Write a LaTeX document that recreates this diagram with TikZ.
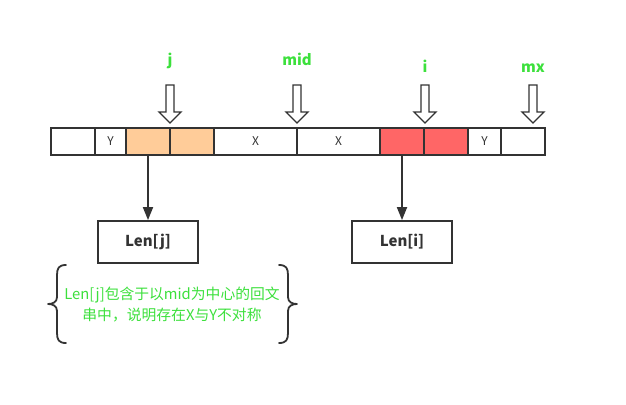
\documentclass[tikz,border=0pt]{standalone}
\usepackage{fontspec}
\setmainfont{Noto Sans CJK SC}
\usetikzlibrary{arrows.meta}
\definecolor{ink}{HTML}{333333}
\definecolor{lgreen}{HTML}{3CE03C}
\definecolor{orangecell}{HTML}{FFCC99}
\definecolor{redcell}{HTML}{FF6666}
\begin{document}
\begin{tikzpicture}[x=1pt,y=-1pt,
  cell/.style={draw=ink, line width=1.8pt, anchor=north west, minimum height=27pt,
    inner sep=0pt, outer sep=0pt, font=\fontsize{12}{14}\selectfont, text=ink},
  lenbox/.style={draw=ink, line width=1.8pt, minimum width=100pt, minimum height=42pt,
    inner sep=0pt, font=\bfseries\fontsize{15}{17}\selectfont, text=ink},
  ptrlabel/.style={anchor=base, text=lgreen, font=\bfseries\fontsize{15}{18}\selectfont, inner sep=0pt},
  note/.style={align=center, text=lgreen, font=\fontsize{14.8}{21}\selectfont, inner sep=0pt},
  conn/.style={draw=ink, line width=1.8pt, -{Triangle[length=13pt,width=10pt]}},
  bracestyle/.style={draw=ink, line width=1.8pt, line cap=round, line join=round},
  pics/blockarrow/.style={code={
    \draw[draw=ink, fill=white, line width=1.3pt, line join=miter]
      (-4,0) -- (4,0) -- (4,27) -- (11,27) -- (0,38) -- (-11,27) -- (-4,27) -- cycle;}}
]
\useasboundingbox (0,0) rectangle (626,404);

% array cells
\foreach \xa/\xb/\fc/\txt/\nm in {51/95/white//c1, 95/126/white/Y/c2, 126/170/orangecell//c3,
  170/214/orangecell//c4, 214/297/white/X/c5, 297/380/white/X/c6, 380/424/redcell//c7,
  424/468/redcell//c8, 468/501/white/Y/c9, 501/545/white//c10}
{
  \pgfmathsetmacro{\w}{\xb-\xa}
  \node[cell, fill=\fc, minimum width=\w pt] (\nm) at (\xa,128) {\txt};
}

% pointer labels
\node[ptrlabel] (lj) at (170,66) {j};
\node[ptrlabel] (lmid) at (297,66) {mid};
\node[ptrlabel] (li) at (425,72) {i};
\node[ptrlabel] (lmx) at (533,72) {mx};

% block arrows
\pic at (170,85) {blockarrow};
\pic at (297,85) {blockarrow};
\pic at (425,85) {blockarrow};
\pic at (533,85) {blockarrow};

% boxes
\node[lenbox] (lenj) at (148,242) {Len[j]};
\node[lenbox] (leni) at (402,242) {Len[i]};

\draw[conn] (c3.south) -- (lenj.north);
\draw[conn] (c7.south) -- (leni.north);

% note
\node[note] (note) at (172,305) {Len[j]包含于以mid为中心的回文\\串中，说明存在X与Y不对称};

% braces
\draw[bracestyle] (66,265) .. controls (59,265) and (57,268) .. (57,275)
  -- (57,297) .. controls (57,302) and (53,304) .. (48,304)
  .. controls (53,304) and (57,306) .. (57,311)
  -- (57,333) .. controls (57,340) and (59,343) .. (66,343);
\draw[bracestyle] (279,265) .. controls (286,265) and (288,268) .. (288,275)
  -- (288,297) .. controls (288,302) and (292,304) .. (297,304)
  .. controls (292,304) and (288,306) .. (288,311)
  -- (288,333) .. controls (288,340) and (286,343) .. (279,343);
\end{tikzpicture}
\end{document}
